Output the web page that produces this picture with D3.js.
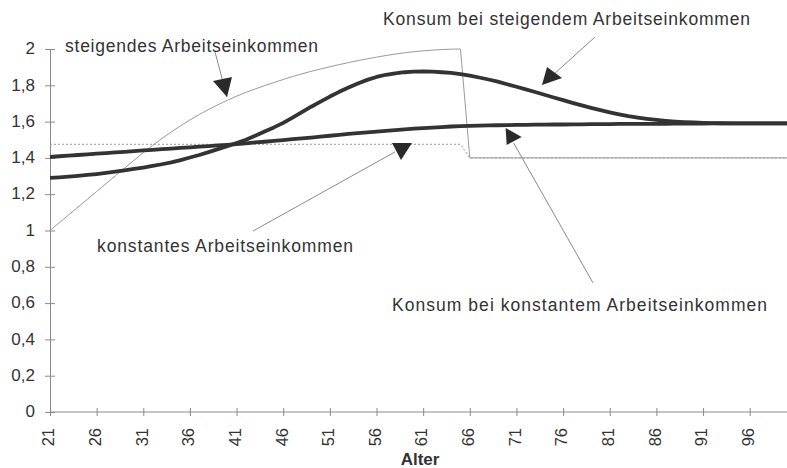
<!DOCTYPE html>
<html>
<head>
<meta charset="utf-8">
<script src="https://cdnjs.cloudflare.com/ajax/libs/d3/7.8.5/d3.min.js"></script>
<style>
  body { margin: 0; background: #fff; }
  svg { display: block; font-family: "Liberation Sans", Arial, sans-serif; }
</style>
</head>
<body>
<div id="chart"></div>
<script>
// categories: age 21 .. 100
var ages = d3.range(21, 101);
var tickAges = [21, 26, 31, 36, 41, 46, 51, 56, 61, 66, 71, 76, 81, 86, 91, 96];
var yTicks = [0, 0.2, 0.4, 0.6, 0.8, 1, 1.2, 1.4, 1.6, 1.8, 2];

// steigendes Arbeitseinkommen (income rises until 65, pension afterwards)
var incomeRising = [
  1.000, 1.043, 1.086, 1.129, 1.172, 1.215, 1.258, 1.301, 1.344, 1.387,
  1.429, 1.469, 1.507, 1.543, 1.577, 1.609, 1.639, 1.667, 1.693, 1.717,
  1.740, 1.761, 1.780, 1.798, 1.815, 1.832, 1.848, 1.863, 1.877, 1.890,
  1.902, 1.914, 1.925, 1.936, 1.946, 1.955, 1.964, 1.972, 1.979, 1.985,
  1.990, 1.994, 1.997, 1.999, 2.000, 1.4, 1.4, 1.4, 1.4, 1.4,
  1.4, 1.4, 1.4, 1.4, 1.4, 1.4, 1.4, 1.4, 1.4, 1.4,
  1.4, 1.4, 1.4, 1.4, 1.4, 1.4, 1.4, 1.4, 1.4, 1.4,
  1.4, 1.4, 1.4, 1.4, 1.4, 1.4, 1.4, 1.4, 1.4, 1.4
];

// konstantes Arbeitseinkommen
var incomeConstant = [
  1.475, 1.475, 1.475, 1.475, 1.475, 1.475, 1.475, 1.475, 1.475, 1.475,
  1.475, 1.475, 1.475, 1.475, 1.475, 1.475, 1.475, 1.475, 1.475, 1.475,
  1.475, 1.475, 1.475, 1.475, 1.475, 1.475, 1.475, 1.475, 1.475, 1.475,
  1.475, 1.475, 1.475, 1.475, 1.475, 1.475, 1.475, 1.475, 1.475, 1.475,
  1.475, 1.475, 1.475, 1.475, 1.475, 1.4, 1.4, 1.4, 1.4, 1.4,
  1.4, 1.4, 1.4, 1.4, 1.4, 1.4, 1.4, 1.4, 1.4, 1.4,
  1.4, 1.4, 1.4, 1.4, 1.4, 1.4, 1.4, 1.4, 1.4, 1.4,
  1.4, 1.4, 1.4, 1.4, 1.4, 1.4, 1.4, 1.4, 1.4, 1.4
];

// Konsum bei steigendem Arbeitseinkommen
var consumptionRising = [
  1.290, 1.293, 1.297, 1.301, 1.306, 1.311, 1.317, 1.324, 1.331, 1.339,
  1.347, 1.356, 1.365, 1.375, 1.388, 1.402, 1.416, 1.432, 1.448, 1.465,
  1.482, 1.500, 1.522, 1.545, 1.568, 1.593, 1.622, 1.652, 1.682, 1.710,
  1.738, 1.764, 1.788, 1.810, 1.830, 1.846, 1.858, 1.866, 1.872, 1.875,
  1.876, 1.875, 1.872, 1.868, 1.862, 1.853, 1.843, 1.832, 1.820, 1.806,
  1.792, 1.778, 1.763, 1.748, 1.733, 1.718, 1.703, 1.689, 1.676, 1.663,
  1.651, 1.640, 1.630, 1.622, 1.615, 1.609, 1.604, 1.600, 1.597, 1.595,
  1.593, 1.592, 1.591, 1.590, 1.590, 1.590, 1.590, 1.590, 1.590, 1.590
];

// Konsum bei konstantem Arbeitseinkommen
var consumptionConstant = [
  1.405, 1.409, 1.412, 1.416, 1.419, 1.423, 1.426, 1.430, 1.433, 1.437,
  1.441, 1.444, 1.448, 1.451, 1.455, 1.458, 1.462, 1.465, 1.469, 1.472,
  1.476, 1.480, 1.485, 1.489, 1.494, 1.498, 1.503, 1.507, 1.512, 1.517,
  1.522, 1.527, 1.532, 1.536, 1.541, 1.545, 1.549, 1.553, 1.557, 1.561,
  1.564, 1.567, 1.570, 1.573, 1.575, 1.577, 1.578, 1.579, 1.580, 1.581,
  1.582, 1.582, 1.583, 1.583, 1.584, 1.584, 1.585, 1.585, 1.586, 1.586,
  1.586, 1.587, 1.587, 1.587, 1.588, 1.588, 1.588, 1.589, 1.589, 1.589,
  1.589, 1.590, 1.590, 1.590, 1.590, 1.590, 1.590, 1.590, 1.590, 1.590
];

// callout texts and arrows, placed in data space (age, value)
var noteTexts = [
  {text: "steigendes Arbeitseinkommen", age: 22.61, value: 1.983, len: 253},
  {text: "Konsum bei steigendem Arbeitseinkommen", age: 56.70, value: 2.132, len: 367},
  {text: "konstantes Arbeitseinkommen", age: 26.04, value: 0.882, len: 256},
  {text: "Konsum bei konstantem Arbeitseinkommen", age: 57.66, value: 0.556, len: 375}
];
var noteArrows = [
  {from: [38.69, 1.983], to: [39.97, 1.736], head: [[-14, -16], [5, -20], [0, 0]]},
  {from: [79.42, 2.066], to: [73.74, 1.802], head: [[5, -18], [20, -7], [0, 0]]},
  {from: [42.76, 0.997], to: [57.98, 1.433], head: [[-3, -9], [17, -9], [6, 8]]},
  {from: [79.21, 0.711], to: [70.70, 1.482], head: [[-8, -15], [8, -6], [-7, 2]]}
];

var width = 787, height = 468;

var svg = d3.select("#chart")
  .append("svg")
  .attr("width", width)
  .attr("height", height);

var x = d3.scaleLinear().domain([21, 100]).range([50, 787]);
var y = d3.scaleLinear().domain([0, 2]).range([412, 49]);

var de = d3.formatLocale({decimal: ",", thousands: ".", grouping: [3], currency: ["", " €"]});
var fmt = de.format("~g");

// y axis
var yAxis = svg.append("g")
  .attr("transform", "translate(50,0)")
  .call(d3.axisLeft(y).tickValues(yTicks).tickSize(5).tickPadding(10).tickFormat(fmt));
yAxis.select(".domain").attr("stroke", "#8a8a8a");
yAxis.selectAll(".tick line").attr("x1", 5).attr("stroke", "#8a8a8a");
yAxis.selectAll(".tick text")
  .attr("font-size", 17)
  .attr("font-family", "Liberation Sans, Arial, sans-serif")
  .attr("fill", "#333")
  .attr("dy", "0.28em");

// x axis
var xAxis = svg.append("g")
  .attr("transform", "translate(0,412)")
  .call(d3.axisBottom(x).tickValues(tickAges).tickSize(4).tickFormat(d3.format("d")));
xAxis.select(".domain").remove();
xAxis.append("line")
  .attr("x1", x(21)).attr("x2", x(100))
  .attr("stroke", "#8a8a8a");
xAxis.selectAll(".tick line").attr("y1", -4).attr("stroke", "#8a8a8a");
xAxis.selectAll(".tick text")
  .attr("font-size", 16.5)
  .attr("font-family", "Liberation Sans, Arial, sans-serif")
  .attr("fill", "#333")
  .attr("transform", "rotate(-90)")
  .attr("x", -16)
  .attr("y", -2)
  .attr("dy", "0.35em")
  .style("text-anchor", "end");

svg.append("text")
  .text("Alter")
  .attr("x", 420)
  .attr("y", 465)
  .attr("text-anchor", "middle")
  .attr("font-size", 17)
  .attr("font-weight", "bold")
  .attr("fill", "#333");

// series
var line = d3.line()
  .x(function(d, i) { return x(ages[i]); })
  .y(function(d) { return y(d); });

svg.append("path")
  .datum(incomeConstant)
  .attr("d", line)
  .attr("fill", "none")
  .attr("stroke", "#9a9a9a")
  .attr("stroke-width", 1)
  .attr("stroke-dasharray", "2,2");

svg.append("path")
  .datum(incomeRising)
  .attr("d", line)
  .attr("fill", "none")
  .attr("stroke", "#9a9a9a")
  .attr("stroke-width", 1);

svg.append("path")
  .datum(consumptionConstant)
  .attr("d", line)
  .attr("fill", "none")
  .attr("stroke", "#333")
  .attr("stroke-width", 3.8)
  .attr("stroke-linejoin", "round");

svg.append("path")
  .datum(consumptionRising)
  .attr("d", line)
  .attr("fill", "none")
  .attr("stroke", "#333")
  .attr("stroke-width", 3.8)
  .attr("stroke-linejoin", "round");

// callouts
svg.selectAll(".note-line")
  .data(noteArrows)
  .enter().append("line")
  .attr("class", "note-line")
  .attr("x1", function(d) { return x(d.from[0]); })
  .attr("y1", function(d) { return y(d.from[1]); })
  .attr("x2", function(d) { return x(d.to[0]); })
  .attr("y2", function(d) { return y(d.to[1]); })
  .attr("stroke", "#8a8a8a")
  .attr("stroke-width", 1);

svg.selectAll(".note-head")
  .data(noteArrows)
  .enter().append("polygon")
  .attr("class", "note-head")
  .attr("points", function(d) {
    var px = x(d.to[0]), py = y(d.to[1]);
    return d.head.map(function(p) { return (px + p[0]) + "," + (py + p[1]); }).join(" ");
  })
  .attr("fill", "#2a2a2a");

svg.selectAll(".note-text")
  .data(noteTexts)
  .enter().append("text")
  .attr("class", "note-text")
  .text(function(d) { return d.text; })
  .attr("x", function(d) { return x(d.age); })
  .attr("y", function(d) { return y(d.value); })
  .attr("textLength", function(d) { return d.len; })
  .attr("lengthAdjust", "spacing")
  .attr("font-size", 17.5)
  .attr("fill", "#333");
</script>
</body>
</html>
